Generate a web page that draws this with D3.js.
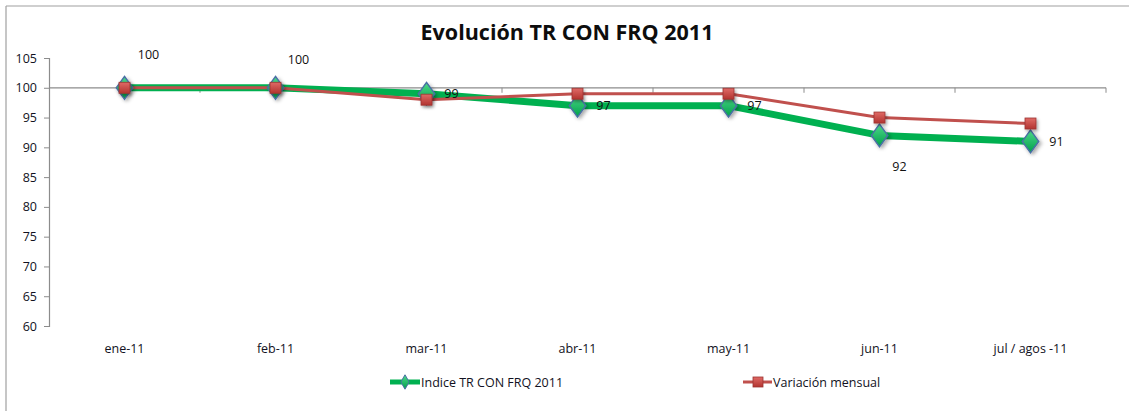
<!DOCTYPE html>
<html>
<head>
<meta charset="utf-8">
<script src="https://cdn.jsdelivr.net/npm/d3@7"></script>
<style>
  body { margin: 0; background: #fff; }
  text { font-family: "Open Sans", sans-serif; fill: #111122; }
</style>
</head>
<body>
<div id="chart"></div>
<script>
// data
var months = ["ene-11", "feb-11", "mar-11", "abr-11", "may-11", "jun-11", "jul / agos -11"];
var indice = [100, 100, 99, 97, 97, 92, 91];
var variacion = [100, 100, 98, 99, 99, 95, 94];
var yTicks = [60, 65, 70, 75, 80, 85, 90, 95, 100, 105];
var seriesNames = ["Indice TR CON FRQ 2011", "Variación mensual"];

var width = 1129, height = 411;
var plotLeft = 49, plotRight = 1106, plotTop = 58, plotBottom = 326;

// where each data label sits around its point (Excel-ish auto placement)
var labelOffsets = [[24, -33], [23, -28], [25, 0], [26, 0], [26, 0], [20, 31], [26, 0]];

var svg = d3.select("#chart").append("svg")
    .attr("width", width)
    .attr("height", height);

var defs = svg.append("defs");
var shadow = defs.append("filter").attr("id", "shadow")
    .attr("x", "-50%").attr("y", "-50%").attr("width", "200%").attr("height", "200%");
shadow.append("feDropShadow").attr("dx", 1.5).attr("dy", 2).attr("stdDeviation", 1.5)
    .attr("flood-color", "#000").attr("flood-opacity", 0.35);

var gDiamond = defs.append("linearGradient").attr("id", "gDiamond")
    .attr("x1", 0).attr("y1", 0).attr("x2", 0).attr("y2", 1);
gDiamond.append("stop").attr("offset", "0%").attr("stop-color", "#4fd88a");
gDiamond.append("stop").attr("offset", "100%").attr("stop-color", "#00a04a");

var gSquare = defs.append("linearGradient").attr("id", "gSquare")
    .attr("x1", 0).attr("y1", 0).attr("x2", 0).attr("y2", 1);
gSquare.append("stop").attr("offset", "0%").attr("stop-color", "#e06a66");
gSquare.append("stop").attr("offset", "100%").attr("stop-color", "#b23430");

// chart frame (only top and left edges are visible in the crop)
svg.append("line").attr("x1", 6).attr("y1", 6).attr("x2", width).attr("y2", 6)
    .attr("stroke", "#a0a0a0").attr("stroke-width", 1.2);
svg.append("line").attr("x1", 6).attr("y1", 6).attr("x2", 6).attr("y2", height)
    .attr("stroke", "#a0a0a0").attr("stroke-width", 1.2);

svg.append("text")
    .attr("x", 567).attr("y", 40)
    .attr("text-anchor", "middle")
    .style("font-size", "21.5px")
    .style("font-weight", "bold")
    .style("fill", "#0d0d0d")
    .text("Evolución TR CON FRQ 2011");

var x = d3.scalePoint()
    .domain(months)
    .range([plotLeft, plotRight])
    .padding(0.5);

var xBand = d3.scaleBand()
    .domain(months)
    .range([plotLeft, plotRight]);

var y = d3.scaleLinear()
    .domain([60, 105])
    .range([plotBottom, plotTop]);

// value axis
var yAxis = svg.append("g")
    .attr("transform", "translate(" + plotLeft + ",0)")
    .call(d3.axisLeft(y).tickValues(yTicks).tickSize(5).tickPadding(7));
yAxis.select(".domain").attr("stroke", "#8c8c8c").attr("stroke-width", 1.2);
yAxis.selectAll(".tick line").attr("stroke", "#8c8c8c");
yAxis.selectAll(".tick text").style("font-size", "12.5px").attr("fill", "#111122");

// category axis crosses at 100
var xAxisG = svg.append("g").attr("transform", "translate(0," + y(100) + ")");
xAxisG.append("line")
    .attr("x1", plotLeft).attr("x2", plotRight)
    .attr("stroke", "#8c8c8c").attr("stroke-width", 1.2);
var boundaries = months.map(function (m) { return xBand(m) + xBand.bandwidth(); });
xAxisG.selectAll("line.tick")
    .data(boundaries)
    .enter().append("line")
    .attr("class", "tick")
    .attr("x1", function (d) { return d; })
    .attr("x2", function (d) { return d; })
    .attr("y1", 0).attr("y2", 5)
    .attr("stroke", "#8c8c8c");

// category labels sit low, under the plot
svg.selectAll("text.cat")
    .data(months)
    .enter().append("text")
    .attr("class", "cat")
    .attr("x", function (d) { return x(d); })
    .attr("y", 353)
    .attr("text-anchor", "middle")
    .style("font-size", "12.5px")
    .text(function (d) { return d; });

var line = d3.line()
    .x(function (d, i) { return x(months[i]); })
    .y(function (d) { return y(d); });

// green series
svg.append("path")
    .datum(indice)
    .attr("d", line)
    .attr("fill", "none")
    .attr("stroke", "#00b050")
    .attr("stroke-width", 7)
    .attr("stroke-linejoin", "round");

// red series
svg.append("path")
    .datum(variacion)
    .attr("d", line)
    .attr("fill", "none")
    .attr("stroke", "#c0504d")
    .attr("stroke-width", 3)
    .attr("stroke-linejoin", "round");

var diamond = d3.symbol().type(d3.symbolDiamond).size(150);

svg.selectAll("path.diamond")
    .data(indice)
    .enter().append("path")
    .attr("class", "diamond")
    .attr("d", diamond)
    .attr("transform", function (d, i) { return "translate(" + x(months[i]) + "," + y(d) + ") scale(1.25,1)"; })
    .attr("fill", "url(#gDiamond)")
    .attr("stroke", "#4a6fa5")
    .attr("stroke-width", 1.2)
    .attr("filter", "url(#shadow)");

svg.selectAll("rect.square")
    .data(variacion)
    .enter().append("rect")
    .attr("class", "square")
    .attr("x", function (d, i) { return x(months[i]) - 5.5; })
    .attr("y", function (d) { return y(d) - 5.5; })
    .attr("width", 11).attr("height", 11)
    .attr("fill", "url(#gSquare)")
    .attr("stroke", "#9c3330")
    .attr("stroke-width", 0.8)
    .attr("filter", "url(#shadow)");

// data labels of the green series
svg.selectAll("text.lbl")
    .data(indice)
    .enter().append("text")
    .attr("class", "lbl")
    .attr("x", function (d, i) { return x(months[i]) + labelOffsets[i][0]; })
    .attr("y", function (d, i) { return y(d) + labelOffsets[i][1]; })
    .attr("dy", "0.36em")
    .attr("text-anchor", "middle")
    .style("font-size", "12.5px")
    .style("fill", "#111")
    .text(function (d) { return d; });

// legend
var legend = svg.append("g").attr("transform", "translate(0,382)");
var leg1 = legend.append("g").attr("transform", "translate(390,0)");
leg1.append("line").attr("x1", 0).attr("x2", 30).attr("stroke", "#00b050").attr("stroke-width", 5);
leg1.append("path").attr("d", d3.symbol().type(d3.symbolDiamond).size(60))
    .attr("transform", "translate(15,0)")
    .attr("fill", "url(#gDiamond)").attr("stroke", "#4a6fa5");
leg1.append("text").attr("x", 31).attr("dy", "0.36em")
    .style("font-size", "12.5px").text(seriesNames[0]);

var leg2 = legend.append("g").attr("transform", "translate(743,0)");
leg2.append("line").attr("x1", 0).attr("x2", 29).attr("stroke", "#c0504d").attr("stroke-width", 3);
leg2.append("rect").attr("x", 10).attr("y", -5).attr("width", 10).attr("height", 10)
    .attr("fill", "url(#gSquare)").attr("stroke", "#9c3330").attr("stroke-width", 0.8);
leg2.append("text").attr("x", 30).attr("dy", "0.36em")
    .style("font-size", "12.5px").text(seriesNames[1]);
</script>
</body>
</html>
